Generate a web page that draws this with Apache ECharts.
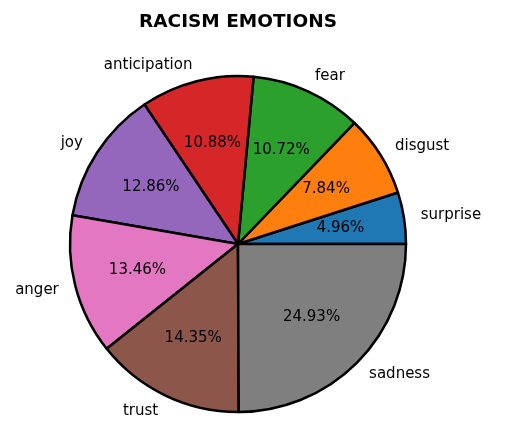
<!DOCTYPE html>
<html>
<head>
<meta charset="utf-8">
<script src="https://cdn.jsdelivr.net/npm/echarts@6/dist/echarts.min.js"></script>
<style>
  html, body { margin: 0; padding: 0; background: #fff; }
  #chart { width: 508px; height: 448px; }
</style>
</head>
<body>
<div id="chart"></div>
<script>
const emotions = ['surprise', 'disgust', 'fear', 'anticipation', 'joy', 'anger', 'trust', 'sadness'];
const shares = [4.96, 7.84, 10.72, 10.88, 12.86, 13.46, 14.35, 24.93];
const colors = ['#1f77b4', '#ff7f0e', '#2ca02c', '#d62728', '#9467bd', '#e377c2', '#8c564b', '#7f7f7f'];

const font = 'DejaVu Sans';
const center = [238, 244];
const R = 168;

const chart = echarts.init(document.getElementById('chart'));
chart.setOption({
  animation: false,
  title: {
    text: 'RACISM EMOTIONS',
    left: 134,
    top: 8,
    textStyle: { fontFamily: font, fontSize: 18.5, fontWeight: 'bold', color: '#000' }
  },
  series: [
    {
      // slices + category names outside (at 1.1 R)
      type: 'pie',
      center: center,
      radius: R,
      startAngle: 0,
      clockwise: false,
      avoidLabelOverlap: false,
      itemStyle: { borderColor: '#000', borderWidth: 2.5 },
      label: {
        position: 'outside',
        formatter: '{b}',
        fontFamily: font,
        fontSize: 15,
        color: '#000',
        distanceToLabelLine: 0
      },
      labelLine: { show: false, length: 17, length2: 0 },
      emphasis: { disabled: true },
      data: emotions.map((n, i) => ({ name: n, value: shares[i], itemStyle: { color: colors[i] } }))
    },
    {
      // percent labels at 0.6 R
      type: 'pie',
      center: center,
      radius: R * 1.2,
      startAngle: 0,
      clockwise: false,
      silent: true,
      itemStyle: { color: 'transparent', borderWidth: 0 },
      label: {
        position: 'inside',
        formatter: p => p.value.toFixed(2) + '%',
        fontFamily: font,
        fontSize: 15,
        color: '#000'
      },
      labelLine: { show: false },
      emphasis: { disabled: true },
      data: emotions.map((n, i) => ({ name: n, value: shares[i] }))
    }
  ]
});
</script>
</body>
</html>
